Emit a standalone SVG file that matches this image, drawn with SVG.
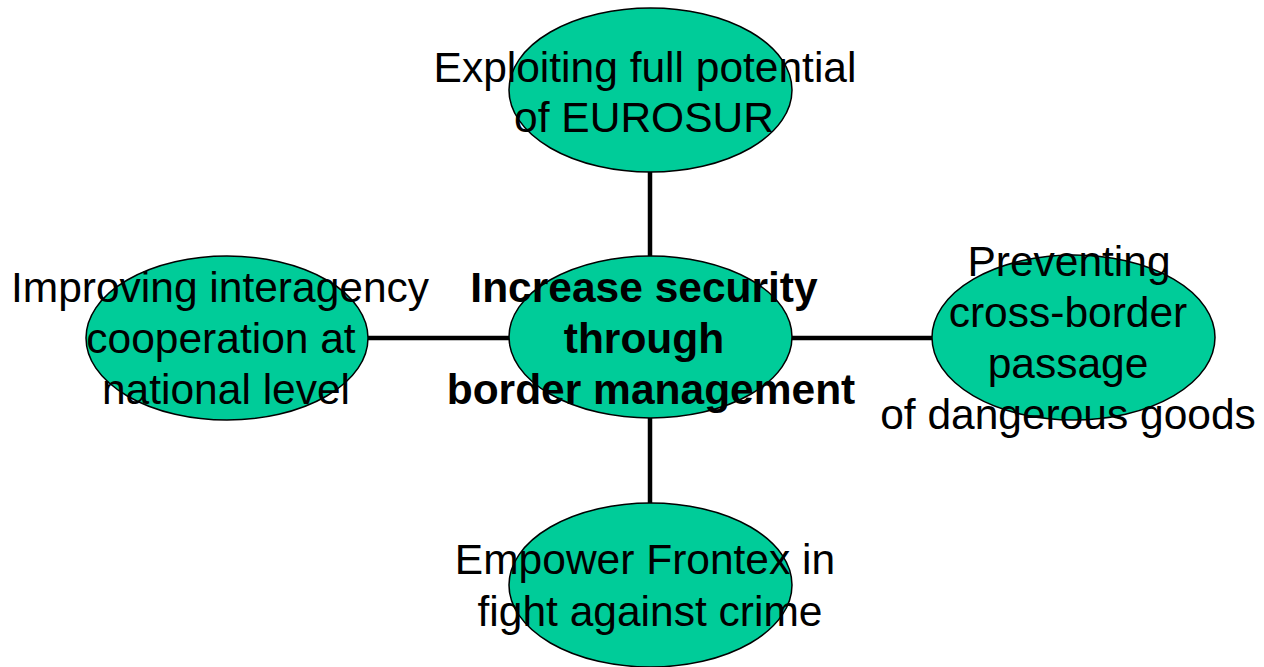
<svg xmlns="http://www.w3.org/2000/svg" width="1264" height="667" viewBox="0 0 1264 667">
<style>
.n{fill:#00CC99;stroke:#000;stroke-width:1.5}
.t{font-family:"Liberation Sans",Arial,sans-serif;font-size:42.5px;fill:#000;text-anchor:middle}
.b{font-weight:bold}
.c{stroke:#000;stroke-width:4.5;fill:none}
</style>
<rect width="1264" height="667" fill="#fff"/>
<g id="connectors">
<line class="c" x1="650" y1="172" x2="650" y2="256"/>
<line class="c" x1="650" y1="418" x2="650" y2="503"/>
<line class="c" x1="368" y1="338" x2="509" y2="338"/>
<line class="c" x1="792" y1="338" x2="932" y2="338"/>
</g>
<g id="node-top">
<ellipse class="n" cx="650.5" cy="90" rx="141.5" ry="82"/>
<text class="t" x="645" y="82">Exploiting full potential</text>
<text class="t" x="644" y="132">of EUROSUR</text>
</g>
<g id="node-left">
<ellipse class="n" cx="227" cy="338" rx="141" ry="82"/>
<text class="t" x="220" y="302">Improving interagency</text>
<text class="t" x="221" y="353">cooperation at</text>
<text class="t" x="226" y="404">national level</text>
</g>
<g id="node-right">
<ellipse class="n" cx="1073.5" cy="337.5" rx="141.5" ry="82.5"/>
<text class="t" x="1069" y="276">Preventing</text>
<text class="t" x="1068" y="327">cross-border</text>
<text class="t" x="1068" y="378">passage</text>
<text class="t" x="1068" y="429">of dangerous goods</text>
</g>
<g id="node-bottom">
<ellipse class="n" cx="650.5" cy="585" rx="141.5" ry="82"/>
<text class="t" x="645" y="574">Empower Frontex in</text>
<text class="t" x="650" y="626">fight against crime</text>
</g>
<g id="node-center">
<ellipse class="n" cx="650.5" cy="337" rx="141.5" ry="81"/>
<text class="t b" x="644" y="302">Increase security</text>
<text class="t b" x="644" y="353">through</text>
<text class="t b" x="651" y="404">border management</text>
</g>
</svg>
